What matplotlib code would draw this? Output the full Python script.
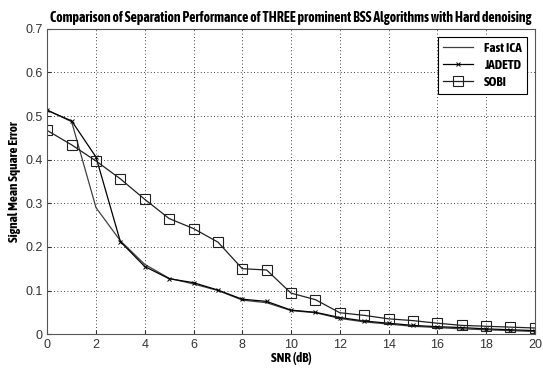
import numpy as np
import matplotlib.pyplot as plt
from matplotlib import font_manager

plt.rcParams['font.family'] = ['Liberation Sans', 'DejaVu Sans']

# condensed bold face for title/labels/legend (MATLAB style)
names = set(f.name for f in font_manager.fontManager.ttflist)
if 'Asap Condensed' in names:
    lab_font = {'family': 'Asap Condensed', 'weight': 'bold'}
else:
    lab_font = {'family': 'DejaVu Sans', 'stretch': 'condensed', 'weight': 'bold'}

snr = np.arange(0, 21)

fast_ica = [0.514, 0.487, 0.290, 0.214, 0.160, 0.128, 0.115, 0.100, 0.078, 0.072, 0.054,
            0.049, 0.036, 0.028, 0.023, 0.018, 0.015, 0.012, 0.010, 0.008, 0.006]
jadetd = [0.513, 0.489, 0.406, 0.212, 0.155, 0.127, 0.118, 0.101, 0.080, 0.075, 0.055,
          0.050, 0.038, 0.030, 0.025, 0.020, 0.017, 0.015, 0.012, 0.010, 0.008]
sobi = [0.467, 0.434, 0.397, 0.356, 0.309, 0.265, 0.242, 0.211, 0.150, 0.147, 0.094,
        0.079, 0.049, 0.043, 0.035, 0.031, 0.025, 0.020, 0.018, 0.016, 0.014]

fig = plt.figure(figsize=(5.43, 3.70), dpi=100)
ax = fig.add_axes([0.087, 0.097, 0.898, 0.825])

ax.plot(snr, fast_ica, color='#404040', linewidth=0.9, label='Fast ICA')
ax.plot(snr, jadetd, color='black', linewidth=0.9, marker='x', markersize=3,
        markeredgewidth=0.7, label='JADETD')
ax.plot(snr, sobi, color='#202020', linewidth=0.9, marker='s', markersize=6.5,
        markerfacecolor='none', markeredgewidth=0.8, label='SOBI')

ax.set_xlim(0, 20)
ax.set_ylim(0, 0.7)
ax.set_xticks(np.arange(0, 21, 2))
ax.set_yticks(np.arange(0, 0.71, 0.1))
ax.set_yticklabels(['0', '0.1', '0.2', '0.3', '0.4', '0.5', '0.6', '0.7'])
ax.tick_params(direction='in', length=3, labelsize=9, colors='#333333')
for s in ax.spines.values():
    s.set_color('#555555')
    s.set_linewidth(0.8)

ax.grid(True, color='black', linestyle=(0, (1, 3)), linewidth=0.6)

ax.set_xlabel('SNR (dB)', fontsize=9.5, labelpad=1, **lab_font)
ax.set_ylabel('Signal Mean Square Error', fontsize=9.5, labelpad=3, **lab_font)
ax.set_title('Comparison of Separation Performance of THREE prominent BSS Algorithms with Hard denoising',
             fontsize=10, pad=5, **lab_font)

leg = ax.legend(loc='upper right', handlelength=2.3, fancybox=False,
                framealpha=1, edgecolor='black', borderaxespad=0.6, labelspacing=0.3,
                prop=dict(lab_font, size=9.5))
leg.get_frame().set_linewidth(0.8)

fig.savefig('out.png', dpi=100)
